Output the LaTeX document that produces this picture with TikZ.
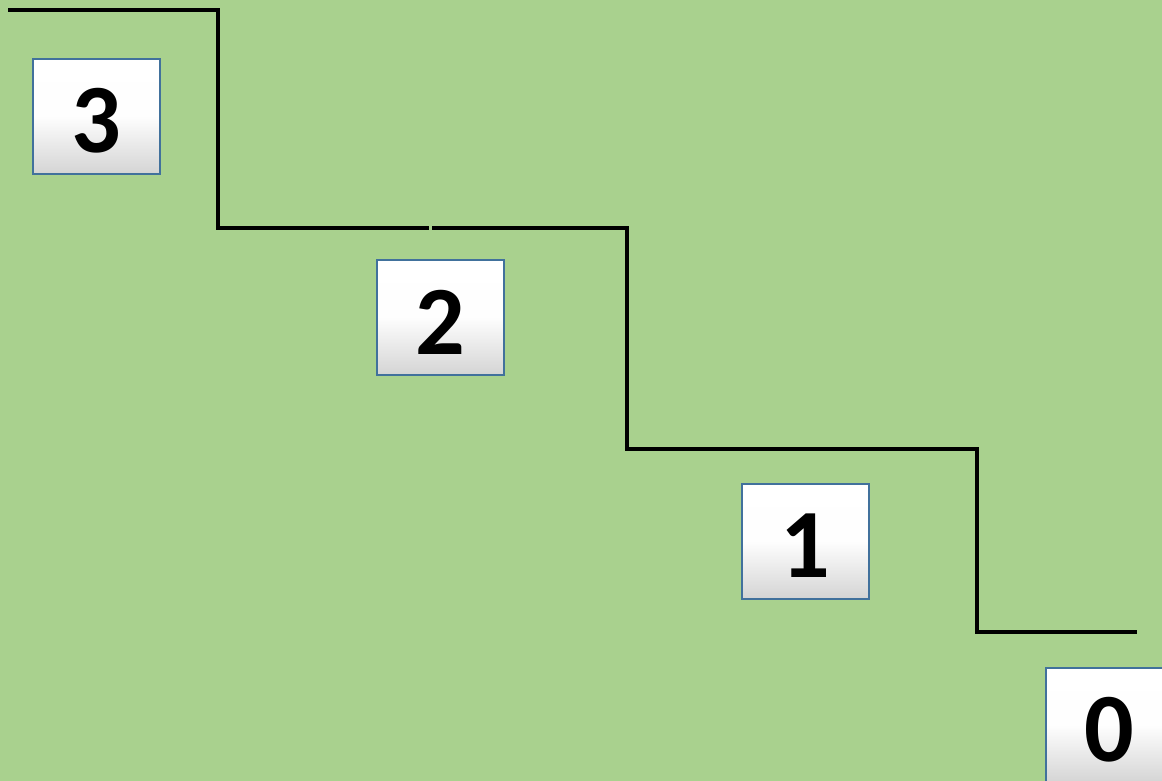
\documentclass[tikz,border=0pt]{standalone}
\usepackage{fontspec}
\setmainfont{Carlito}
\definecolor{bg}{HTML}{A9D18E}
\definecolor{boxline}{HTML}{41719C}
\definecolor{boxbot}{HTML}{D4D4D4}
\begin{document}
\begin{tikzpicture}[x=1pt,y=-1pt,
  numbox/.style={draw=boxline, line width=1.6pt, minimum width=127pt, minimum height=115pt, inner sep=0pt,
    top color=white, bottom color=boxbot, middle color=white!97!boxbot, shading angle=0},
  numtext/.style={font=\fontsize{98}{98}\selectfont\bfseries, inner sep=0pt},
  stair/.style={line width=3.6pt, black}]
\fill[bg] (0,0) rectangle (1162,781);
\useasboundingbox (0,0) rectangle (1162,781);
\clip (0,0) rectangle (1162,781);
% boxes
\node[numbox] (b3) at (96.5,116.5) {};
\node[numbox] (b2) at (440.5,317.5) {};
\node[numbox] (b1) at (805.5,541.5) {};
\node[numbox] (b0) at (1109.5,725.5) {};
\node[numtext] (t3) at (96.5,121) {3};
\node[numtext] (t2) at (440.5,322) {2};
\node[numtext] (t1) at (805.5,546) {1};
\node[numtext] (t0) at (1109.5,730) {0};
% stairs
\coordinate (s0) at (8,10);
\coordinate (s1) at (218,10);
\coordinate (s2) at (218,228);
\coordinate (s3) at (429,228);
\coordinate (s4) at (432,228);
\coordinate (s5) at (627,228);
\coordinate (s6) at (627,449);
\coordinate (s7) at (977,449);
\coordinate (s8) at (977,632);
\coordinate (s9) at (1137,632);
\draw[stair] (s0) -- (s1) -- (s2) -- (s3);
\draw[stair] (s4) -- (s5) -- (s6) -- (s7) -- (s8) -- (s9);
\end{tikzpicture}
\end{document}
